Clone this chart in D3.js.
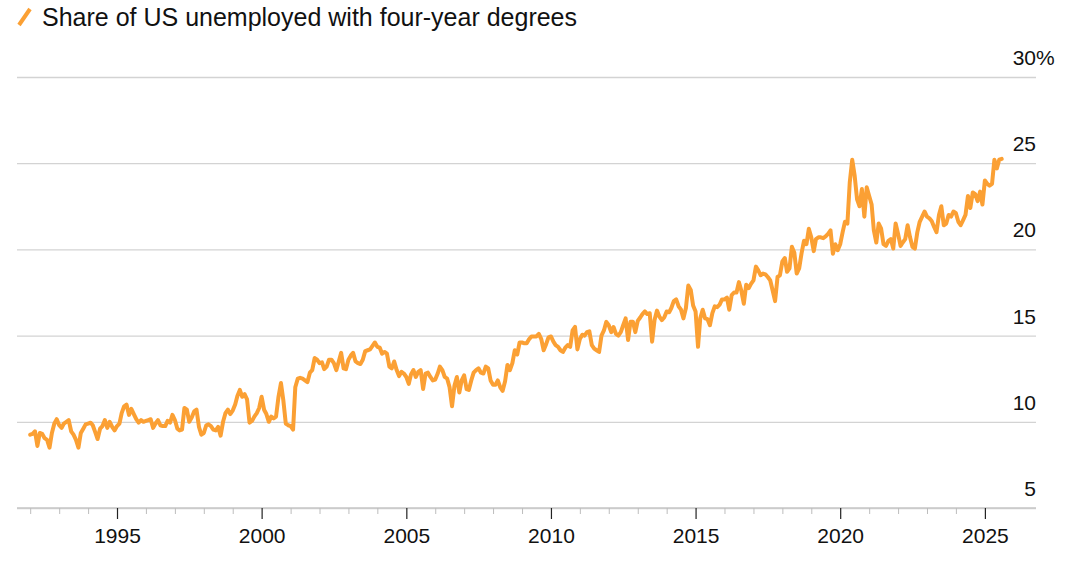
<!DOCTYPE html>
<html>
<head>
<meta charset="utf-8">
<script src="https://cdn.jsdelivr.net/npm/d3@7"></script>
<style>
  html, body { margin: 0; padding: 0; background: #fff; }
  svg { display: block; font-family: "Liberation Sans", Arial, Helvetica, sans-serif; }
</style>
</head>
<body>
<svg id="chart" width="1073" height="563"></svg>
<script>
// ---- data (monthly, Jan 1992 onward) ----
const seriesName = "Share of US unemployed with four-year degrees";
const startYear = 1992;
const v1992 = [9.25, 9.3, 9.45, 8.6, 9.35, 9.3, 9.05, 8.95, 8.5, 9.35, 9.9, 10.15];
const v1993 = [9.8, 9.65, 9.9, 10.0, 10.1, 9.45, 9.25, 8.95, 8.5, 9.35, 9.6, 9.85];
const v1994 = [9.9, 9.95, 9.8, 9.4, 9.0, 9.6, 9.75, 10.1, 9.65, 10.0, 9.7, 9.5];
const v1995 = [9.75, 9.9, 10.5, 10.9, 11.0, 10.4, 10.75, 10.45, 10.15, 9.95, 10.1, 10.0];
const v1996 = [10.05, 10.1, 10.15, 9.65, 9.9, 10.1, 9.8, 9.75, 9.75, 10.05, 9.95, 10.4];
const v1997 = [10.1, 9.6, 9.5, 9.55, 10.8, 10.7, 10.0, 10.25, 10.6, 10.7, 9.7, 9.25];
const v1998 = [9.35, 9.8, 9.85, 9.75, 9.55, 9.5, 9.7, 9.2, 10.0, 10.5, 10.7, 10.45];
const v1999 = [10.65, 11.0, 11.5, 11.85, 11.45, 11.6, 11.3, 9.95, 10.05, 10.3, 10.5, 10.8];
const v2000 = [11.45, 10.7, 10.45, 10.0, 10.3, 10.2, 10.3, 11.45, 12.25, 11.25, 9.9, 9.8];
const v2001 = [9.75, 9.55, 12.0, 12.5, 12.55, 12.5, 12.4, 12.3, 12.85, 13.0, 13.7, 13.6];
const v2002 = [13.4, 13.45, 13.05, 13.2, 13.6, 13.6, 13.4, 13.0, 13.5, 14.0, 13.1, 13.05];
const v2003 = [13.6, 13.85, 14.0, 13.5, 13.4, 13.35, 13.6, 14.1, 14.15, 14.2, 14.4, 14.6];
const v2004 = [14.35, 14.3, 13.95, 14.05, 13.95, 13.2, 13.1, 13.5, 13.0, 12.65, 12.9, 12.8];
const v2005 = [12.6, 12.2, 12.75, 13.0, 12.6, 12.9, 13.0, 11.9, 12.8, 12.85, 12.6, 12.4];
const v2006 = [12.45, 12.8, 13.2, 13.0, 12.6, 12.5, 12.0, 10.9, 12.1, 12.6, 11.7, 12.4];
const v2007 = [12.7, 11.9, 11.85, 12.4, 12.85, 13.0, 13.1, 12.85, 12.8, 13.2, 13.1, 12.4];
const v2008 = [12.15, 12.15, 12.4, 12.0, 11.8, 12.35, 13.3, 13.0, 13.4, 14.15, 13.9, 14.6];
const v2009 = [14.6, 14.55, 14.55, 14.8, 14.95, 14.95, 14.95, 15.1, 14.8, 14.15, 14.5, 14.9];
const v2010 = [14.95, 14.65, 14.45, 14.35, 14.15, 14.05, 14.3, 14.45, 14.35, 15.3, 15.5, 14.2];
const v2011 = [14.8, 15.05, 15.0, 15.2, 15.25, 14.45, 14.25, 14.15, 14.05, 15.0, 15.3, 15.8];
const v2012 = [15.6, 15.2, 15.5, 15.1, 15.0, 15.2, 15.6, 16.0, 14.75, 15.8, 15.8, 15.2];
const v2013 = [15.85, 16.05, 16.25, 16.4, 16.25, 16.3, 14.65, 15.9, 16.45, 16.1, 15.9, 16.05];
const v2014 = [16.4, 16.35, 16.6, 17.0, 17.1, 16.7, 16.5, 16.0, 16.6, 17.9, 17.65, 16.75];
const v2015 = [16.4, 14.35, 16.0, 16.5, 16.0, 15.95, 15.6, 16.3, 16.7, 16.65, 16.8, 17.1];
const v2016 = [17.1, 17.2, 16.5, 17.35, 17.5, 17.5, 18.1, 17.6, 16.85, 17.95, 17.75, 18.0];
const v2017 = [18.2, 19.0, 18.8, 18.5, 18.6, 18.55, 18.4, 18.2, 17.6, 17.0, 18.4, 18.5];
const v2018 = [19.3, 19.5, 18.7, 18.9, 20.15, 19.8, 18.6, 18.9, 19.8, 20.5, 20.3, 21.2];
const v2019 = [20.7, 19.9, 20.6, 20.7, 20.7, 20.65, 20.75, 20.9, 21.1, 19.75, 20.3, 19.95];
const v2020 = [20.3, 21.0, 21.6, 21.5, 23.9, 25.2, 24.3, 22.9, 22.5, 23.5, 21.9, 23.6];
const v2021 = [23.1, 22.6, 21.1, 20.4, 21.5, 21.2, 20.3, 20.2, 20.5, 20.6, 20.05, 21.5];
const v2022 = [20.9, 20.2, 20.4, 20.6, 21.4, 20.7, 20.15, 20.05, 21.0, 21.6, 21.9, 22.2];
const v2023 = [21.9, 21.8, 21.65, 21.3, 21.0, 22.0, 22.5, 21.4, 21.5, 22.0, 21.9, 22.2];
const v2024 = [22.1, 21.6, 21.4, 21.7, 22.0, 23.1, 22.4, 23.3, 23.2, 22.8, 23.35, 22.6];
const v2025 = [24.0, 23.8, 23.7, 23.8, 25.2, 24.7, 25.2, 25.25];

const yearlyValues = [v1992, v1993, v1994, v1995, v1996, v1997, v1998, v1999, v2000,
  v2001, v2002, v2003, v2004, v2005, v2006, v2007, v2008, v2009, v2010, v2011, v2012,
  v2013, v2014, v2015, v2016, v2017, v2018, v2019, v2020, v2021, v2022, v2023, v2024, v2025];

const yTicks = [5, 10, 15, 20, 25, 30];
const xLabelYears = [1995, 2000, 2005, 2010, 2015, 2020, 2025];

// ---- build data table ----
const data = [];
yearlyValues.forEach((arr, i) => {
  arr.forEach((v, m) => data.push({ date: new Date(Date.UTC(startYear + i, m, 1)), value: v }));
});

// ---- layout ----
const svg = d3.select("#chart");
const plotLeft = 17, plotRight = 1036;
const x = d3.scaleUtc()
  .domain([new Date(Date.UTC(1992, 0, 1)), new Date(Date.UTC(2026, 0, 1))])
  .range([30.2, 1013.8]);
const y = d3.scaleLinear().domain([5, 30]).range([508, 77]);

const textColor = "#111";
const gridColor = "#d3d3d3";
const lineColor = "#fba034";
const fontFam = "'Liberation Sans', Arial, sans-serif";
const axisFont = 21;

// gridlines + y labels
const yAxis = d3.axisRight(y).tickValues(yTicks).tickSize(-(plotRight - plotLeft)).tickFormat(d => d);
const gy = svg.append("g").attr("transform", `translate(${plotRight},0)`).call(yAxis);
gy.select(".domain").remove();
gy.selectAll(".tick line").attr("stroke", gridColor).attr("stroke-width", 1.3);
gy.selectAll(".tick text")
  .attr("x", 0).attr("dy", null).attr("y", -12.5).attr("text-anchor", "end")
  .attr("fill", textColor).attr("font-size", axisFont)
  .attr("font-family", fontFam);
gy.selectAll(".tick").filter(d => d === 30).append("text")
  .attr("x", 0).attr("y", -12.5)
  .attr("text-anchor", "start").attr("fill", textColor).attr("font-size", axisFont)
  .attr("font-family", fontFam).text("%");

// x axis: minor yearly ticks and major 5-year ticks
const years = d3.range(1992, 2026).map(yr => new Date(Date.UTC(yr, 0, 1)));
const gx = svg.append("g").attr("transform", "translate(0,508)");
gx.append("line").attr("x1", plotLeft).attr("x2", plotRight).attr("y1", 0).attr("y2", 0)
  .attr("stroke", "#c8c8c8").attr("stroke-width", 1.3);
const minorAxis = d3.axisBottom(x).tickValues(years.filter(d => d.getUTCFullYear() % 5 !== 0))
  .tickSize(6).tickFormat("");
const gMinor = gx.append("g").call(minorAxis);
gMinor.select(".domain").remove();
gMinor.selectAll(".tick line").attr("stroke", "#bdbdbd").attr("stroke-width", 1);
const majorAxis = d3.axisBottom(x).tickValues(xLabelYears.map(yr => new Date(Date.UTC(yr, 0, 1))))
  .tickSize(11).tickPadding(9).tickFormat(d3.utcFormat("%Y"));
const gMajor = gx.append("g").call(majorAxis);
gMajor.select(".domain").remove();
gMajor.selectAll(".tick line").attr("stroke", "#222").attr("stroke-width", 1.2);
gMajor.selectAll(".tick text").attr("fill", textColor).attr("font-size", axisFont)
  .attr("font-family", fontFam);

// line
const line = d3.line().x(d => x(d.date)).y(d => y(d.value)).curve(d3.curveLinear);
svg.append("path").datum(data)
  .attr("d", line).attr("fill", "none").attr("stroke", lineColor)
  .attr("stroke-width", 4).attr("stroke-linejoin", "round").attr("stroke-linecap", "round");

// legend
const lg = svg.append("g");
lg.append("line").attr("x1", 19).attr("y1", 25).attr("x2", 30).attr("y2", 9)
  .attr("stroke", lineColor).attr("stroke-width", 4).attr("stroke-linecap", "butt");
lg.append("text").attr("x", 42).attr("y", 25.5).text(seriesName)
  .attr("fill", textColor).attr("font-size", 25)
  .attr("font-family", fontFam);
</script>
</body>
</html>
